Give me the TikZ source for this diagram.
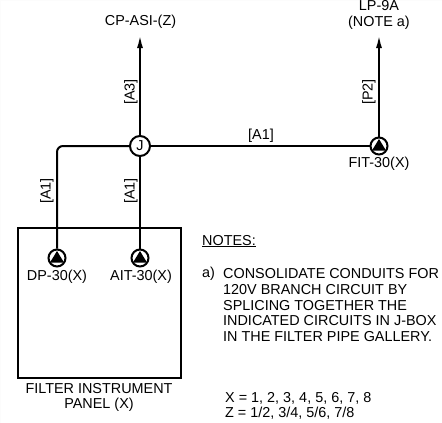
\documentclass[tikz,border=0pt]{standalone}
\usepackage{fontspec}
\setmainfont{Liberation Sans}
\usetikzlibrary{arrows.meta}
\tikzset{
  junction/.style={draw, circle, fill=white, line width=2pt, minimum size=20pt, inner sep=0pt},
  sensor/.style={draw, circle, fill=white, line width=2pt, minimum size=17pt, inner sep=0pt},
  lbl/.style={font=\fontsize{14.4}{15.7}\selectfont, inner sep=0pt},
  wire/.style={line width=2pt},
  feed/.style={wire, -{Latex[length=13pt,width=6pt]}}
}
\begin{document}
\begin{tikzpicture}[x=1pt, y=-1pt]
    \useasboundingbox (0,0) rectangle (442,423);
    \draw[black!1, fill=white, line width=1pt] (0,0) rectangle (442,423);

    % Panel
    \node[draw, line width=2pt, minimum width=163pt, minimum height=150pt, inner sep=0pt] (panel) at (99.5,303) {};

    % Instruments
    \node[junction] (j) at (140,146) {\fontsize{14.4}{15.7}\selectfont J};
    \node[sensor] (fit) at (379,146) {};
    \node[sensor] (dp) at (57,258) {};
    \node[sensor] (ait) at (140,258) {};
    \coordinate (cp) at (140,35);
    \coordinate (lp) at (379,35);

    % Triangles inside the instruments
    \foreach \inst in {fit,dp,ait}
      \fill ([yshift=7pt]\inst.center) -- ++(-7pt,-11.5pt) -- ++(14pt,0pt) -- cycle;

    % Conduits
    \draw[wire, rounded corners=6pt] (j) -- (dp |- j) -- (dp);
    \draw[wire] (j) -- (ait);
    \draw[wire] (j) -- (fit);
    \draw[feed] (j) -- (cp);
    \draw[feed] (fit) -- (lp);

    % Destinations
    \node[lbl] (cplbl) at (140.5,22) {CP-ASI-(Z)};
    \node[lbl] (lplbla) at (379,6) {LP-9A};
    \node[lbl] (lplblb) at (379,22.5) {(NOTE a)};
    \node[lbl] (fitlbl) at (379,164) {FIT-30(X)};
    \node[lbl] (dplbl) at (57,277) {DP-30(X)};
    \node[lbl] (aitlbl) at (141,277) {AIT-30(X)};
    \node[lbl] (panella) at (99,389) {FILTER INSTRUMENT};
    \node[lbl] (panellb) at (99,405) {PANEL (X)};

    % Conduit tags
    \node[lbl, rotate=90] (a3) at (131,92) {[A3]};
    \node[lbl, rotate=90] (p2) at (369,92) {[P2]};
    \node[lbl, rotate=90] (a1l) at (47,191) {[A1]};
    \node[lbl, rotate=90] (a1m) at (131,191) {[A1]};
    \node[lbl] (a1r) at (261,136) {[A1]};

    % Notes
    \node[lbl, anchor=west] (notes) at (202,241) {NOTES:};
    \draw[line width=1pt] (notes.south west) -- (notes.south east);
    \node[lbl, anchor=west] (notea) at (202,273.5) {a)};
    \foreach \i/\ypos/\txt in {1/273.5/CONSOLIDATE CONDUITS FOR, 2/289.5/120V BRANCH CIRCUIT BY, 3/305.5/SPLICING TOGETHER THE, 4/321/INDICATED CIRCUITS IN J-BOX, 5/337/IN THE FILTER PIPE GALLERY.}
      \node[lbl, anchor=west] (note\i) at (223,\ypos) {\txt};
    \node[lbl, anchor=west] (xval) at (225,398.5) {X = 1, 2, 3, 4, 5, 6, 7, 8};
    \node[lbl, anchor=west] (zval) at (225,413) {Z = 1/2, 3/4, 5/6, 7/8};
\end{tikzpicture}
\end{document}
